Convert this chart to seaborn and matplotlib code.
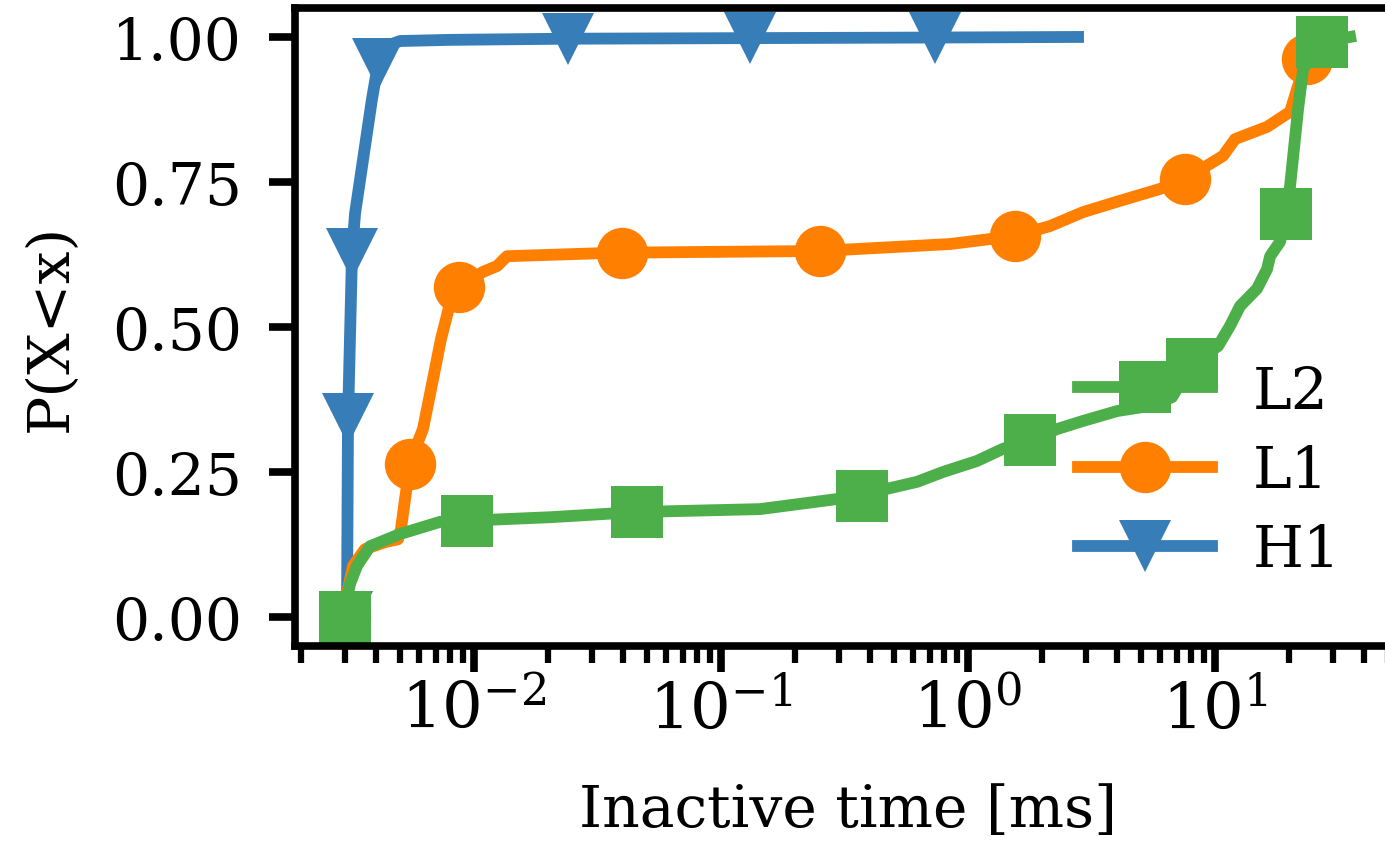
import numpy as np
import pandas as pd
import matplotlib
matplotlib.use("Agg")
import matplotlib.pyplot as plt
import seaborn as sns

# CDF curves (x in ms, y = P(X<x))
h1_x = [0.003060, 0.003090, 0.003207, 0.003298, 0.003864, 0.004088, 0.004656,
        0.005017, 0.007995, 0.02402, 0.1310, 0.7350, 2.788]
h1_y = [0.0, 0.341, 0.626, 0.695, 0.893, 0.953, 0.988, 0.993, 0.995, 0.997,
        0.998, 0.999, 1.0]
h1_marks = [0, 1, 2, 5, 9, 10, 11]

l1_x = [0.003004, 0.003090, 0.003236, 0.003620, 0.004361, 0.004925, 0.005064,
        0.005256, 0.005507, 0.005878, 0.006215, 0.006823, 0.007349, 0.007991,
        0.008694, 0.01087, 0.01239, 0.01360, 0.03148, 0.03973, 0.06823, 0.2517,
        0.8455, 1.550, 2.148, 2.921, 4.010, 5.987, 7.558, 10.77, 12.05, 16.24,
        20.12, 21.68, 23.58, 25.40]
l1_y = [0.0, 0.048, 0.088, 0.117, 0.129, 0.134, 0.152, 0.203, 0.264, 0.298,
        0.324, 0.410, 0.479, 0.540, 0.569, 0.595, 0.605, 0.622, 0.627, 0.628,
        0.629, 0.631, 0.643, 0.657, 0.674, 0.698, 0.716, 0.738, 0.755, 0.795,
        0.824, 0.845, 0.871, 0.916, 0.962, 1.0]
l1_marks = [0, 8, 14, 19, 21, 23, 28, 34]

l2_x = [0.003004, 0.003060, 0.003148, 0.003359, 0.003793, 0.005017, 0.007284,
        0.009369, 0.02031, 0.04570, 0.1438, 0.3723, 0.4700, 0.6217, 0.7919,
        1.087, 1.386, 1.782, 2.293, 2.921, 4.010, 5.455, 6.696, 8.070, 10.28,
        11.50, 12.62, 14.79, 16.24, 16.70, 18.33, 19.39, 20.12, 21.68, 22.72,
        27.12, 35.21]
l2_y = [0.0, 0.031, 0.057, 0.088, 0.122, 0.143, 0.164, 0.166, 0.172, 0.181,
        0.186, 0.209, 0.221, 0.233, 0.250, 0.269, 0.290, 0.305, 0.324, 0.338,
        0.355, 0.364, 0.379, 0.436, 0.467, 0.502, 0.536, 0.566, 0.600, 0.622,
        0.647, 0.695, 0.743, 0.876, 0.945, 0.991, 1.0]
l2_marks = [0, 7, 9, 11, 17, 23, 31, 35]

yticks = [0.0, 0.25, 0.5, 0.75, 1.0]

sns.set_theme(style="ticks")
plt.rcParams['font.family'] = ['DejaVu Serif']
plt.rcParams['font.size'] = 42
plt.rcParams['text.color'] = 'black'
plt.rcParams['axes.labelcolor'] = 'black'
plt.rcParams['xtick.color'] = 'black'
plt.rcParams['ytick.color'] = 'black'
plt.rcParams['lines.solid_capstyle'] = 'projecting'

pal = sns.color_palette("Set1")
colors = {"H1": pal[1], "L1": pal[4], "L2": pal[2]}

fig = plt.figure(figsize=(13.85, 8.53), dpi=100)
ax = fig.add_axes([0.2128, 0.2415, 0.7983, 0.748])

series = [("H1", h1_x, h1_y, h1_marks, "v"),
          ("L1", l1_x, l1_y, l1_marks, "o"),
          ("L2", l2_x, l2_y, l2_marks, "s")]
for name, xs, ys, marks, mk in series:
    df = pd.DataFrame({"x": xs, "y": ys})
    sns.lineplot(data=df, x="x", y="y", ax=ax, color=colors[name], label=name,
                 estimator=None, sort=False, lw=8.5, marker=mk, markersize=37,
                 markevery=marks, markeredgewidth=0)

ax.set_xscale("log")
ax.set_yticks(yticks)
ax.set_yticklabels([f"{t:.2f}" for t in yticks])
ax.set_xlabel("Inactive time [ms]", fontsize=42, labelpad=30)
ax.set_ylabel("P(X<x)", fontsize=42, labelpad=24)

for s in ax.spines.values():
    s.set_linewidth(5.5)
    s.set_color("black")
ax.tick_params(axis="both", which="major", length=19, width=5.5, color="black")
ax.tick_params(axis="both", which="minor", length=12, width=4.5, color="black")
ax.tick_params(axis="y", labelsize=42, pad=19)
ax.tick_params(axis="x", labelsize=46, pad=5)

handles, labels = ax.get_legend_handles_labels()
ax.legend(handles[::-1], labels[::-1], loc="center left",
          bbox_to_anchor=(1078 / 1385, 1 - 472 / 853),
          bbox_transform=fig.transFigure, frameon=False, fontsize=42,
          borderpad=0, borderaxespad=0, handlelength=2.3, handletextpad=0.7,
          labelspacing=0.4)

fig.savefig("out.png", dpi=100)
